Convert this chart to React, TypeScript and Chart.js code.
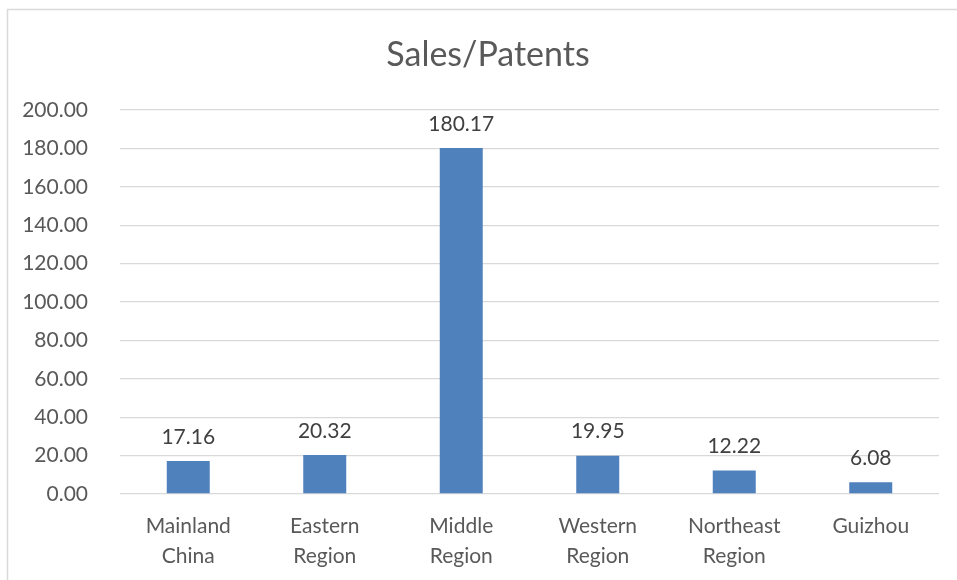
import React, { useEffect, useRef } from "react";
import { Chart, registerables } from "chart.js";

Chart.register(...registerables);

const categories: string[][] = [
  ["Mainland", "China"],
  ["Eastern", "Region"],
  ["Middle", "Region"],
  ["Western", "Region"],
  ["Northeast", "Region"],
  ["Guizhou"],
];
const salesPerPatent: number[] = [17.16, 20.32, 180.17, 19.95, 12.22, 6.08];
const yMin = 0;
const yMax = 200;
const yStep = 20;
const chartTitle = "Sales/Patents";

const FONT = "Lato, 'Open Sans', sans-serif";

const frameAndLabels = {
  id: "frameAndLabels",
  beforeDraw(chart: any) {
    const ctx = chart.ctx;
    ctx.save();
    ctx.fillStyle = "#ffffff";
    ctx.fillRect(0, 0, chart.width, chart.height);
    ctx.strokeStyle = "#d9d9d9";
    ctx.lineWidth = 1.5;
    ctx.beginPath();
    ctx.moveTo(7.5, chart.height);
    ctx.lineTo(7.5, 9.5);
    ctx.lineTo(chart.width, 9.5);
    ctx.stroke();
    // title
    ctx.fillStyle = "#595959";
    ctx.font = `34px ${FONT}`;
    ctx.textAlign = "center";
    ctx.textBaseline = "middle";
    ctx.fillText(chartTitle, 488, 55);
    ctx.restore();
  },
  afterDatasetsDraw(chart: any) {
    const ctx = chart.ctx;
    const meta = chart.getDatasetMeta(0);
    const data = chart.data.datasets[0].data as number[];
    ctx.save();
    ctx.fillStyle = "#404040";
    ctx.font = `21px ${FONT}`;
    ctx.textAlign = "center";
    ctx.textBaseline = "middle";
    meta.data.forEach((bar: any, i: number) => {
      ctx.fillText(data[i].toFixed(2), bar.x, bar.y - 24);
    });
    ctx.restore();
  },
};

export default function App() {
  const ref = useRef<HTMLCanvasElement>(null);
  useEffect(() => {
    document.body.style.margin = "0";
    const chart = new Chart(ref.current!, {
      type: "bar",
      data: {
        labels: categories,
        datasets: [
          {
            data: salesPerPatent,
            backgroundColor: "#4F81BD",
            barPercentage: 0.63,
            categoryPercentage: 0.5,
          },
        ],
      },
      plugins: [frameAndLabels],
      options: {
        responsive: false,
        animation: false,
        devicePixelRatio: 1,
        layout: { padding: { top: 110, right: 18, left: 0, bottom: 0 } },
        plugins: {
          legend: { display: false },
          title: { display: false },
          tooltip: { enabled: false },
        },
        scales: {
          x: {
            grid: { display: false },
            border: { display: false },
            ticks: {
              color: "#595959",
              font: { family: FONT, size: 21, lineHeight: 1.45 },
              padding: 9,
              maxRotation: 0,
              autoSkip: false,
            },
            afterFit(scale: any) {
              scale.height = 86;
            },
          },
          y: {
            min: yMin,
            max: yMax,
            grid: { color: "#d9d9d9", lineWidth: 1.3, drawTicks: false },
            border: { display: false },
            ticks: {
              stepSize: yStep,
              color: "#595959",
              font: { family: FONT, size: 21 },
              padding: 32,
              callback: (v: any) => Number(v).toFixed(2),
            },
            afterFit(scale: any) {
              scale.width = 120;
            },
          },
        },
      },
    });
    return () => chart.destroy();
  }, []);
  return (
    <div style={{ position: "absolute", left: 0, top: 0, width: 957, height: 580 }}>
      <canvas ref={ref} width={957} height={580} style={{ width: 957, height: 580 }} />
    </div>
  );
}
